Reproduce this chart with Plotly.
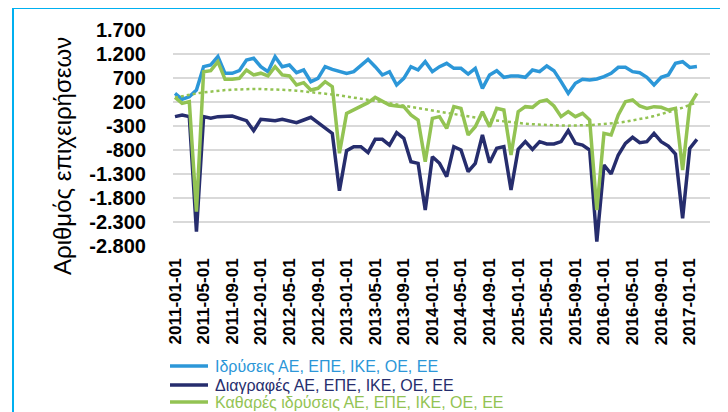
import numpy as np
import pandas as pd
import plotly.graph_objects as go

# Monthly categories 2011-01 .. 2017-02
months = pd.date_range("2011-01-01", periods=74, freq="MS").strftime("%Y-%m-%d").tolist()
tick_months = months[::4]

# Ιδρύσεις (foundings)
foundings = [381, 256, 311, 450, 936, 971, 1145, 797, 797, 853,
             1075, 1110, 936, 832, 1145, 936, 971, 811, 867, 624,
             693, 936, 881, 832, 797, 832, 971, 1089, 936, 763,
             832, 554, 693, 936, 867, 1040,
             832, 936, 1006, 901, 901, 783, 901, 485, 763, 853,
             714, 742, 742, 714, 867, 832, 950, 853, 624, 381,
             589, 672, 658, 679, 728, 797, 922, 922, 832, 811,
             714, 554, 714, 763, 1006, 1040, 920, 940]

# Διαγραφές (deletions)
deletions = [-105, -71, -105, -2501, -105, -140, -105, -91, -91, -140,
             -189, -397, -161, -175, -189, -161, -189, -230, -175, -119,
             -230, -349, -453, -1647, -814, -730, -730, -855, -578, -578,
             -696, -439, -557, -1043, -1078, -2050,
             -939, -1078, -1355, -730, -800, -1251, -1078, -487, -1064, -765,
             -730, -1633, -786, -626, -786, -626, -675, -675, -626, -397,
             -661, -696, -800, -2710, -1112, -1300, -904, -661, -536, -647,
             -626, -453, -626, -717, -883, -2223, -765, -578]

# Καθαρές ιδρύσεις (net foundings)
net = [297, 172, 207, -2085, 832, 853, 1040, 672, 672, 693,
       867, 763, 800, 742, 936, 763, 742, 554, 603, 450,
       485, 624, 520, -869, -36, 33, 117, 186, 297, 207,
       138, 117, 103, -71, -175, -1043,
       -140, -105, -349, 103, 68, -487, -314, -1, -314, 68,
       33, -904, -1, 103, 89, 207, 242, 117, -105, -1,
       -105, -36, -175, -2050, -453, -487, -71, 207, 242, 117,
       68, 103, 89, 33, 68, -1216, 138, 381]

y_ticks = [1700, 1200, 700, 200, -300, -800, -1300, -1800, -2300, -2800]
y_tick_text = ["1.700", "1.200", "700", "200", "-300", "-800", "-1.300", "-1.800", "-2.300", "-2.800"]

names = ["Ιδρύσεις ΑΕ, ΕΠΕ, ΙΚΕ, ΟΕ, ΕΕ",
         "Διαγραφές ΑΕ, ΕΠΕ, ΙΚΕ, ΟΕ, ΕΕ",
         "Καθαρές ιδρύσεις ΑΕ, ΕΠΕ, ΙΚΕ, ΟΕ, ΕΕ"]

C_BLUE = "#2C97D8"
C_NAVY = "#262D6D"
C_GREEN = "#93C353"
colors = [C_BLUE, C_NAVY, C_GREEN]

FONT = "Liberation Sans, Arial, sans-serif"

# polynomial trendline of net foundings (as the spreadsheet trendline)
idx = np.arange(len(net))
trend = np.polyval(np.polyfit(idx, net, 3), idx)

fig = go.Figure()
for vals, nm, col in zip([foundings, deletions, net], names, colors):
    fig.add_trace(go.Scatter(x=months, y=vals, mode="lines",
                             line=dict(color=col, width=3.5), name=nm,
                             showlegend=False))
fig.add_trace(go.Scatter(x=months, y=trend, mode="lines",
                         line=dict(color=C_GREEN, width=2.5, dash="dot"),
                         showlegend=False, hoverinfo="skip"))

# the page body adds an 8px offset, so the figure is 720x404 to fill 728x412
fig.update_layout(
    width=720, height=404,
    margin=dict(l=165, r=18, t=22, b=166),
    paper_bgcolor="white", plot_bgcolor="white",
    font=dict(family=FONT, color="black"),
    xaxis=dict(type="category", range=[-0.28, 74.83],
               tickmode="array", tickvals=tick_months,
               ticktext=[f"<b>{t}</b>" for t in tick_months],
               tickangle=-90, showgrid=False, zeroline=False, showline=False,
               ticks="", ticklabelstandoff=8,
               tickfont=dict(size=17, color="black", family=FONT)),
    yaxis=dict(range=[-2800, 1700], tickmode="array", tickvals=y_ticks,
               ticktext=[f"<b>{t}</b>" for t in y_tick_text],
               showgrid=True, gridcolor="#D9D9D9", gridwidth=1.5, zeroline=False,
               showline=False, ticks="", ticklabelstandoff=26,
               tickfont=dict(size=20, color="black", family=FONT)),
    showlegend=False,
)

# page-pixel -> paper helpers (plot area spans page x 173..710, y 30..246)
px_to_x = lambda px: (px - 173) / 537.0
py_to_y = lambda py: (246.0 - py) / 216.0

# Legend drawn beneath the plot (line sample + coloured label per series)
legend_rows = [366, 385, 402]
for nm, col, row in zip(names, colors, legend_rows):
    fig.add_shape(type="line", xref="paper", yref="paper",
                  x0=px_to_x(170), x1=px_to_x(208), y0=py_to_y(row), y1=py_to_y(row),
                  line=dict(color=col, width=3.5))
    fig.add_annotation(text=nm, xref="paper", yref="paper",
                       x=px_to_x(213), y=py_to_y(row), xanchor="left", yanchor="middle",
                       showarrow=False, font=dict(size=16, color=col, family=FONT))

fig.add_annotation(text="Αριθμός επιχειρήσεων", textangle=-90,
                   xref="paper", yref="paper", x=px_to_x(62), y=py_to_y(156),
                   xanchor="center", yanchor="middle",
                   showarrow=False, font=dict(size=24, color="black", family=FONT))

fig.add_shape(type="rect", xref="paper", yref="paper",
              x0=px_to_x(13), x1=1.2, y0=-1.5, y1=py_to_y(8),
              line=dict(color="#00B0F0", width=2), layer="below")

fig.write_html("out.html")
